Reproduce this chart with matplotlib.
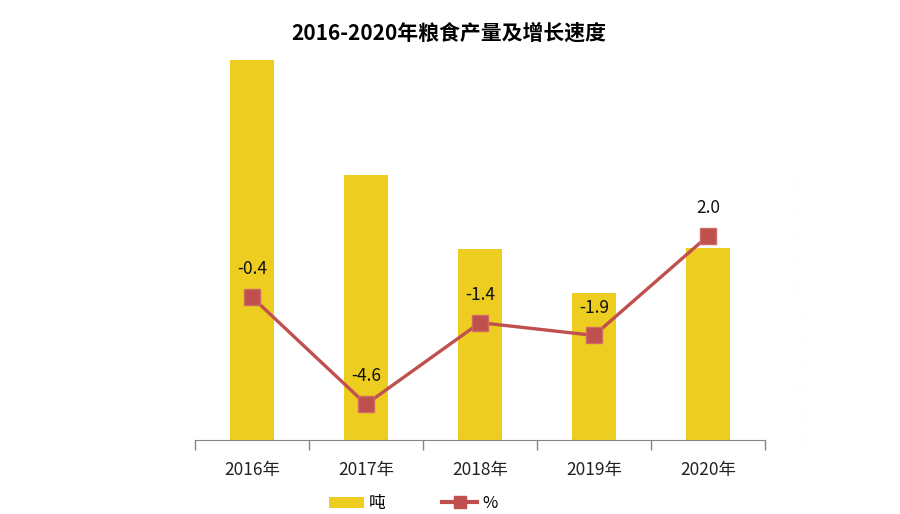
import numpy as np
import matplotlib
matplotlib.use("Agg")
from matplotlib import pyplot as plt
from matplotlib.lines import Line2D
from matplotlib.patches import Patch

plt.rcParams['font.family'] = ['Noto Sans CJK SC', 'DejaVu Sans']

# data
years = ['2016年', '2017年', '2018年', '2019年', '2020年']
output_t = [380, 265, 191, 147, 192]     # bar heights (吨), scale not shown
growth = [-0.4, -4.6, -1.4, -1.9, 2.0]   # 增长速度 %
right_ticks = list(range(-6, 5))

bar_color = '#EDCE20'
line_color = '#C0504D'

fig = plt.figure(figsize=(9, 5.14), dpi=100)
ax = fig.add_axes([0.2167, 0.144, 0.6333, 0.792])
x = np.arange(len(years))

ax.bar(x, output_t, width=0.39, color=bar_color, zorder=1)
ax.set_ylim(0, 407)
ax.set_xlim(-0.5, len(years) - 0.5)

# x axis: ticks at category borders, labels centred
ax.set_xticks(np.arange(-0.5, len(years)), minor=False)
ax.set_xticklabels([])
ax.set_xticks(x, minor=True)
ax.set_xticklabels(years, minor=True, fontsize=12.5, color='#222222')
ax.tick_params(axis='x', which='major', length=7, color='#868686', width=1)
ax.tick_params(axis='x', which='minor', length=0, pad=15)
ax.set_yticks([])
for s in ['top', 'right', 'left']:
    ax.spines[s].set_visible(False)
ax.spines['bottom'].set_color('#868686')

ax2 = ax.twinx()
ax2.plot(x, growth, color=line_color, lw=2.4, marker='s', markersize=12,
         markerfacecolor=line_color, markeredgecolor='#D06A66', zorder=3)
ax2.set_ylim(-6, 9.96)
ax2.set_yticks(right_ticks)
ax2.tick_params(axis='y', length=0, colors='#FDFDFD', labelsize=11, pad=18)
for s in ['top', 'right', 'left', 'bottom']:
    ax2.spines[s].set_visible(False)
for xi, g in zip(x, growth):
    ax2.annotate(f'{g:.1f}', (xi, g), xytext=(0, 20), textcoords='offset points',
                 ha='center', va='center', fontsize=12.5, color='#111111')

fig.text(0.499, 0.936, '2016-2020年粮食产量及增长速度', ha='center', va='center',
         fontsize=15, fontweight='bold')

handles = [Patch(facecolor=bar_color, label='吨'),
           Line2D([], [], color=line_color, lw=3, marker='s', markersize=9,
                  label='%')]
fig.legend(handles=handles, loc='center', bbox_to_anchor=(0.459, 0.02), ncol=2,
           frameon=False, fontsize=12, columnspacing=3.4, handlelength=2.1,
           handletextpad=0.3, borderpad=0.1)

fig.savefig('out.png', dpi=100)
